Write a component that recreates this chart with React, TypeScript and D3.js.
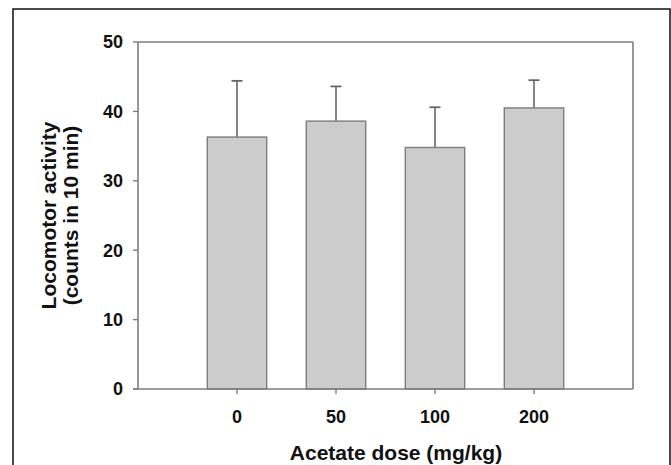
import React from 'react';
import { scaleBand, scaleLinear } from 'd3';

const doses = ['0', '50', '100', '200'];
const means = [36.3, 38.6, 34.8, 40.5];
const errors = [8.1, 5.0, 5.8, 4.0];
const yTicks = [0, 10, 20, 30, 40, 50];

const W = 671;
const H = 465;
const plot = { left: 138, right: 633, top: 42, bottom: 389 };
const font = "'Liberation Sans', Arial, Helvetica, sans-serif";
const axisColor = '#7d7d7d';

const App: React.FC = () => {
    const y = scaleLinear().domain([0, 50]).range([plot.bottom, plot.top]);
    const x = scaleBand()
        .domain(doses)
        .range([plot.left, plot.right])
        .paddingInner(0.4)
        .paddingOuter(0.7);
    const bw = x.bandwidth();
    const midY = (plot.top + plot.bottom) / 2;

    return (
        <svg width={W} height={H} style={{ position: 'absolute', left: 0, top: 0, background: '#fff' }}>
            {/* outer frame */}
            <rect x={13} y={9} width={657} height={H + 20} fill="none" stroke="#111" strokeWidth={1.5} />

            {/* bars */}
            {doses.map((d, i) => (
                <g key={d}>
                    <line
                        x1={x(d)! + bw / 2} x2={x(d)! + bw / 2}
                        y1={y(means[i])} y2={y(means[i] + errors[i])}
                        stroke="#666" strokeWidth={1.6}
                    />
                    <line
                        x1={x(d)! + bw / 2 - 5.5} x2={x(d)! + bw / 2 + 5.5}
                        y1={y(means[i] + errors[i])} y2={y(means[i] + errors[i])}
                        stroke="#666" strokeWidth={1.8}
                    />
                    <rect
                        x={x(d)} y={y(means[i])}
                        width={bw} height={plot.bottom - y(means[i])}
                        fill="#cccccc" stroke={axisColor} strokeWidth={1.4}
                    />
                </g>
            ))}

            {/* plot box */}
            <line x1={plot.left} x2={plot.left} y1={plot.top} y2={plot.bottom} stroke={axisColor} strokeWidth={1.6} />
            <line x1={plot.left - 5} x2={plot.right} y1={plot.bottom} y2={plot.bottom} stroke={axisColor} strokeWidth={1.6} />
            <line x1={plot.left} x2={plot.right} y1={plot.top} y2={plot.top} stroke={axisColor} strokeWidth={1.6} />
            <line x1={plot.right} x2={plot.right} y1={plot.top} y2={plot.bottom} stroke={axisColor} strokeWidth={1.6} />

            {/* y axis ticks */}
            {yTicks.map(t => (
                <g key={t}>
                    <line x1={plot.left - 5} x2={plot.left} y1={y(t)} y2={y(t)} stroke={axisColor} strokeWidth={1.4} />
                    <text
                        x={plot.left - 15} y={y(t)} dy="0.36em"
                        textAnchor="end" fontFamily={font} fontWeight="bold" fontSize={18} fill="#111"
                    >{t}</text>
                </g>
            ))}

            {/* x axis ticks */}
            {doses.map(d => (
                <g key={d}>
                    <line
                        x1={x(d)! + bw / 2} x2={x(d)! + bw / 2}
                        y1={plot.bottom} y2={plot.bottom + 5}
                        stroke={axisColor} strokeWidth={1.4}
                    />
                    <text
                        x={x(d)! + bw / 2} y={423}
                        textAnchor="middle" fontFamily={font} fontWeight="bold" fontSize={18} fill="#111"
                    >{d}</text>
                </g>
            ))}

            {/* axis titles */}
            <text x={396} y={460} textAnchor="middle" fontFamily={font} fontWeight="bold" fontSize={21} fill="#111">
                Acetate dose (mg/kg)
            </text>
            <text
                transform={`translate(56, ${midY}) rotate(-90)`}
                textAnchor="middle" fontFamily={font} fontWeight="bold" fontSize={21} fill="#111"
            >Locomotor activity</text>
            <text
                transform={`translate(78, ${midY}) rotate(-90)`}
                textAnchor="middle" fontFamily={font} fontWeight="bold" fontSize={21} fill="#111"
            >(counts in 10 min)</text>
        </svg>
    );
};

export default App;
